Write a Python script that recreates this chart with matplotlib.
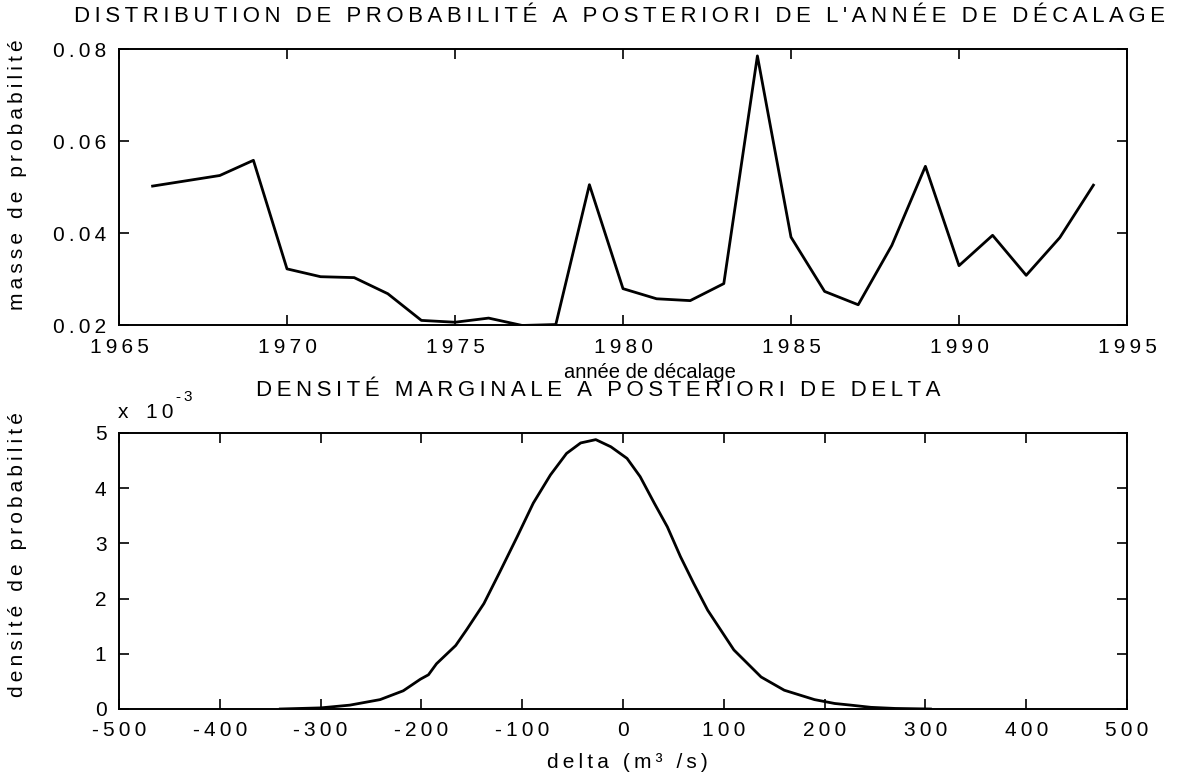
import matplotlib
matplotlib.use("Agg")
import matplotlib.pyplot as plt

plt.rcParams['font.family'] = ['Liberation Sans', 'DejaVu Sans']

# posterior probability mass of the shift year
years = [1966, 1968, 1969, 1970, 1971, 1972, 1973, 1974, 1975, 1976, 1977, 1978,
         1979, 1980, 1981, 1982, 1983, 1984, 1985, 1986, 1987, 1988, 1989, 1990,
         1991, 1992, 1993, 1994]
probs = [0.0502, 0.0525, 0.0558, 0.0322, 0.0305, 0.0303, 0.0268, 0.0210, 0.0206,
         0.0215, 0.0199, 0.0201, 0.0505, 0.0279, 0.0257, 0.0253, 0.0290, 0.0785,
         0.0391, 0.0273, 0.0244, 0.0373, 0.0545, 0.0329, 0.0395, 0.0308, 0.0390,
         0.0504]

# marginal posterior density of delta (values in units of 1e-3)
delta = [-340, -300, -271, -241, -218, -201, -193, -185, -166, -155, -138, -122,
         -105, -89, -72, -56, -42, -27, -12, 4, 17, 31, 44, 57, 70, 84, 97, 110,
         137, 160, 190, 210, 226, 246, 270, 305]
dens = [0.0, 0.02, 0.07, 0.17, 0.33, 0.54, 0.62, 0.82, 1.15, 1.44, 1.91, 2.49,
        3.12, 3.73, 4.24, 4.63, 4.82, 4.88, 4.75, 4.54, 4.21, 3.73, 3.30, 2.76,
        2.28, 1.79, 1.43, 1.07, 0.58, 0.34, 0.17, 0.10, 0.07, 0.03, 0.01, 0.0]

top_xticks = [1965, 1970, 1975, 1980, 1985, 1990, 1995]
top_yticks = [0.02, 0.04, 0.06, 0.08]
bot_xticks = [-500, -400, -300, -200, -100, 0, 100, 200, 300, 400, 500]
bot_yticks = [0, 1, 2, 3, 4, 5]

W, H = 1178, 778
FS = 15


def spaced(s):
    # mimic the wide letter spacing of the original print
    return "\u2009".join(s)


def px(x, y):
    return x / W, 1 - y / H


fig = plt.figure(figsize=(W / 100, H / 100), dpi=100)
ax1 = fig.add_axes([119 / W, 1 - 325 / H, (1127 - 119) / W, (325 - 49) / H])
ax2 = fig.add_axes([119 / W, 1 - 709 / H, (1127 - 119) / W, (709 - 433) / H])

ax1.plot(years, probs, color='black', lw=2.0)
ax1.set_xlim(1965, 1995)
ax1.set_ylim(0.02, 0.08)
ax1.set_xticks(top_xticks)
ax1.set_xticklabels([spaced(str(t)) for t in top_xticks])
ax1.set_yticks(top_yticks)
ax1.set_yticklabels([spaced(f"{t:.2f}") for t in top_yticks])

ax2.plot(delta, [d * 1e-3 for d in dens], color='black', lw=2.0)
ax2.set_xlim(-500, 500)
ax2.set_ylim(0, 5e-3)
ax2.set_xticks(bot_xticks)
ax2.set_xticklabels([spaced(str(t)) for t in bot_xticks])
ax2.set_yticks([t * 1e-3 for t in bot_yticks])
ax2.set_yticklabels([str(t) for t in bot_yticks])

for ax in (ax1, ax2):
    for sp in ax.spines.values():
        sp.set_linewidth(1.4)
    ax.tick_params(direction='in', top=True, right=True, length=7, width=1.2,
                   labelsize=FS, colors='black')
    ax.tick_params(axis='x', pad=9)
    ax.tick_params(axis='y', pad=9)

ttl = dict(fontsize=16, ha='center', va='center')
fig.text(*px(620, 17), spaced("DISTRIBUTION DE PROBABILITÉ A POSTERIORI DE L'ANNÉE DE DÉCALAGE"), **ttl)
fig.text(*px(598, 391), spaced("DENSITÉ MARGINALE A POSTERIORI DE DELTA"), **ttl)

lab = dict(fontsize=FS, ha='center', va='center')
fig.text(*px(650, 373), "année de décalage", fontsize=14.5, ha='center', va='center')
fig.text(*px(627, 763), spaced("delta (m³ /s)"), **lab)
fig.text(*px(18, 175), spaced("masse de probabilité"), rotation=90, **lab)
fig.text(*px(18, 555), spaced("densité de probabilité"), rotation=90, **lab)

fig.text(*px(118, 412), "x", fontsize=FS, ha='left', va='center')
fig.text(*px(146, 412), spaced("10"), fontsize=FS, ha='left', va='center')
fig.text(*px(176, 397), spaced("-3"), fontsize=11, ha='left', va='center')

fig.savefig("out.png", dpi=100)
